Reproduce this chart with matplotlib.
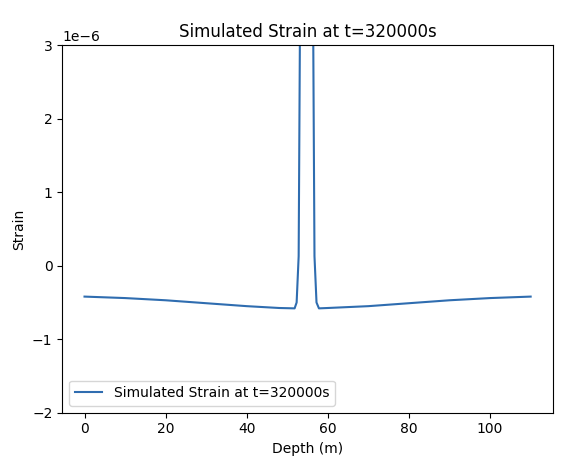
import matplotlib
matplotlib.use('Agg')
import matplotlib.pyplot as plt

# depth (m) and strain values
depth = [0, 10, 20, 30, 40, 48, 51.8, 52.3, 52.8, 53.3, 56.2, 56.7, 57.2, 57.8, 60, 70, 80, 90, 100, 110]
strain = [-0.42, -0.44, -0.47, -0.51, -0.55, -0.575, -0.58, -0.50, 0.13, 5.0,
          5.0, 0.13, -0.50, -0.58, -0.575, -0.55, -0.51, -0.47, -0.44, -0.42]
strain = [s * 1e-6 for s in strain]

fig, ax = plt.subplots(figsize=(5.76, 4.75), dpi=100)
fig.subplots_adjust(left=0.108, right=0.96, top=0.905, bottom=0.131)
ax.plot(depth, strain, color='#2f6db0', label='Simulated Strain at t=320000s')
ax.set_ylim(-2e-6, 3e-6)
ax.set_xlabel('Depth (m)')
ax.set_ylabel('Strain')
ax.set_title('Simulated Strain at t=320000s')
ax.legend(loc='lower left')
plt.savefig('out.png')
